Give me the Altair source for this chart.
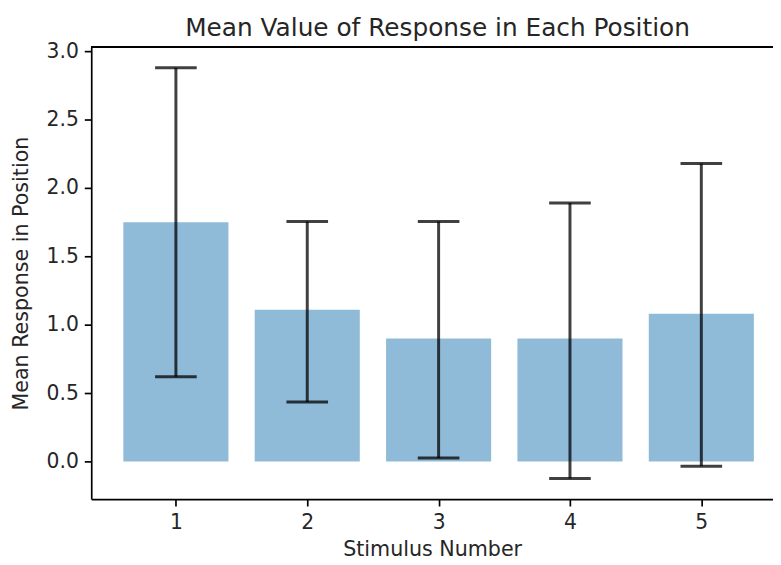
import altair as alt
import pandas as pd

stimulus = [1, 2, 3, 4, 5]
mean_response = [1.75, 1.11, 0.90, 0.90, 1.08]
err_low = [0.62, 0.435, 0.025, -0.125, -0.035]
err_high = [2.88, 1.755, 1.755, 1.89, 2.18]
y_ticks = [0.0, 0.5, 1.0, 1.5, 2.0, 2.5, 3.0]
title_text = "Mean Value of Response in Each Position"

df = pd.DataFrame({
    "stim": stimulus,
    "mean": mean_response,
    "lo": err_low,
    "hi": err_high,
})

W, H = 688, 456
FONT = "DejaVu Sans"
TXT = "#262626"

xscale = alt.Scale(domain=[0.3555, 5.5457], nice=False, zero=False)
yscale = alt.Scale(domain=[-0.275, 3.03], nice=False, zero=False)

base = alt.Chart(df)

bars = base.transform_calculate(
    x0="datum.stim - 0.4", x1="datum.stim + 0.4"
).mark_bar(color="#1f77b4", opacity=0.5).encode(
    x=alt.X("x0:Q", scale=xscale, title="Stimulus Number",
            axis=alt.Axis(values=stimulus, format="d", grid=False,
                          labelPadding=7, titlePadding=6)),
    x2="x1:Q",
    y=alt.Y("mean:Q", scale=yscale, title="Mean Response in Position",
            axis=alt.Axis(values=y_ticks, format=".1f", grid=False,
                          labelPadding=6, titlePadding=15)),
    y2=alt.datum(0),
)

stems = base.mark_rule(color="black", opacity=0.75, strokeWidth=3).encode(
    x=alt.X("stim:Q", scale=xscale),
    y=alt.Y("lo:Q", scale=yscale),
    y2="hi:Q",
)

caps_hi = base.mark_tick(color="black", opacity=0.75, orient="horizontal",
                         size=42, thickness=3).encode(
    x=alt.X("stim:Q", scale=xscale),
    y=alt.Y("hi:Q", scale=yscale),
)
caps_lo = base.mark_tick(color="black", opacity=0.75, orient="horizontal",
                         size=42, thickness=3).encode(
    x=alt.X("stim:Q", scale=xscale),
    y=alt.Y("lo:Q", scale=yscale),
)

top_spine = alt.Chart(df).mark_rule(color="black", strokeWidth=1.7).encode(
    x=alt.value(0), x2=alt.value(W), y=alt.value(0)
)

title = alt.Chart(pd.DataFrame({"t": [title_text]})).mark_text(
    font=FONT, fontSize=25, color=TXT, align="center", baseline="alphabetic"
).encode(
    text="t:N", x=alt.value(349.5), y=alt.value(-11)
)

chart = alt.layer(bars, stems, caps_hi, caps_lo, top_spine, title).properties(
    width=W,
    height=H,
    autosize=alt.AutoSizeParams(type="none"),
    padding={"left": 84, "top": 37, "right": 0, "bottom": 62},
).configure_view(stroke=None).configure_axis(
    labelFont=FONT, titleFont=FONT, labelFontSize=20.5, titleFontSize=20.8,
    titleFontWeight="normal", labelColor=TXT, titleColor=TXT,
    domainColor="black", domainWidth=1.7, tickColor="black", tickWidth=1.7,
    tickSize=7,
)

chart.save("out.html", embed_options={"renderer": "svg", "actions": False})
